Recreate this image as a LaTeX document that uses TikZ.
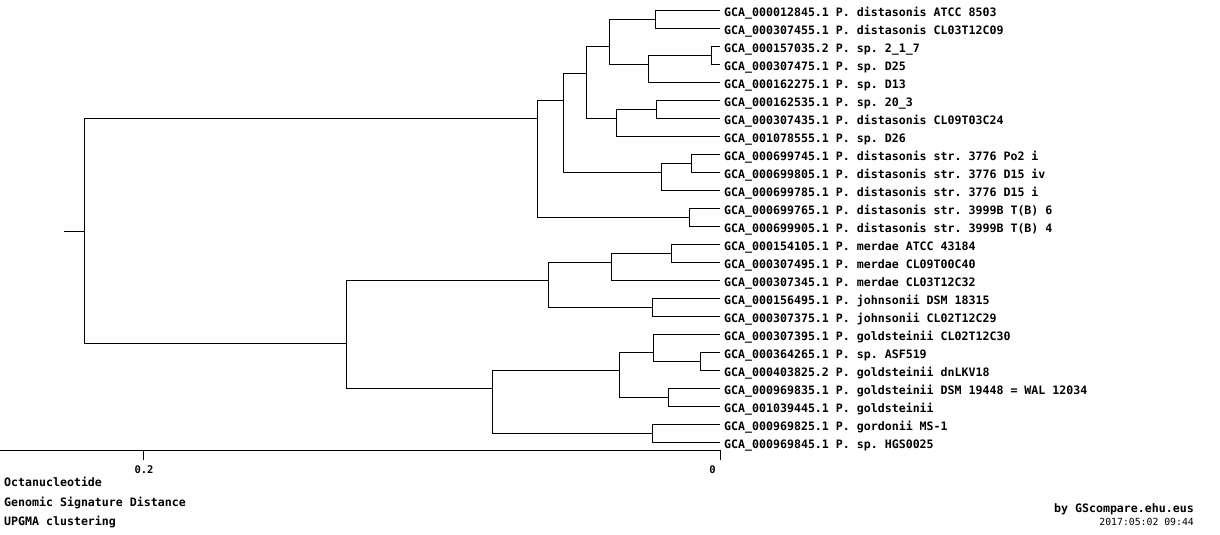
\documentclass[tikz,border=0pt]{standalone}
\usepackage{fontspec}
\setmonofont{DejaVu Sans Mono}
\usepackage{tikz}

\tikzset{
	leaf/.style={anchor=west, inner xsep=4pt, inner ysep=0pt, text height=13pt, text depth=0pt,
		font=\ttfamily\bfseries\fontsize{11.6}{12}\selectfont},
	note/.style={inner sep=0pt, font=\ttfamily\bfseries\fontsize{11.6}{12}\selectfont},
	ticklabel/.style={inner sep=0pt, font=\ttfamily\bfseries\fontsize{10.5}{11}\selectfont},
	branch/.style={line width=1pt},
}

\begin{document}
\begin{tikzpicture}[x=1pt,y=-1pt]
	\useasboundingbox (0,0) rectangle (1220,535);
	% leaves
	\node[leaf] (l1) at (720,10.3) {GCA\_000012845.1 P. distasonis ATCC 8503};
	\node[leaf] (l2) at (720,28.3) {GCA\_000307455.1 P. distasonis CL03T12C09};
	\node[leaf] (l3) at (720,46.3) {GCA\_000157035.2 P. sp. 2\_1\_7};
	\node[leaf] (l4) at (720,64.3) {GCA\_000307475.1 P. sp. D25};
	\node[leaf] (l5) at (720,82.3) {GCA\_000162275.1 P. sp. D13};
	\node[leaf] (l6) at (720,100.3) {GCA\_000162535.1 P. sp. 20\_3};
	\node[leaf] (l7) at (720,118.3) {GCA\_000307435.1 P. distasonis CL09T03C24};
	\node[leaf] (l8) at (720,136.3) {GCA\_001078555.1 P. sp. D26};
	\node[leaf] (l9) at (720,154.3) {GCA\_000699745.1 P. distasonis str. 3776 Po2 i};
	\node[leaf] (l10) at (720,172.3) {GCA\_000699805.1 P. distasonis str. 3776 D15 iv};
	\node[leaf] (l11) at (720,190.3) {GCA\_000699785.1 P. distasonis str. 3776 D15 i};
	\node[leaf] (l12) at (720,208.3) {GCA\_000699765.1 P. distasonis str. 3999B T(B) 6};
	\node[leaf] (l13) at (720,226.3) {GCA\_000699905.1 P. distasonis str. 3999B T(B) 4};
	\node[leaf] (l14) at (720,244.3) {GCA\_000154105.1 P. merdae ATCC 43184};
	\node[leaf] (l15) at (720,262.3) {GCA\_000307495.1 P. merdae CL09T00C40};
	\node[leaf] (l16) at (720,280.3) {GCA\_000307345.1 P. merdae CL03T12C32};
	\node[leaf] (l17) at (720,298.3) {GCA\_000156495.1 P. johnsonii DSM 18315};
	\node[leaf] (l18) at (720,316.3) {GCA\_000307375.1 P. johnsonii CL02T12C29};
	\node[leaf] (l19) at (720,334.3) {GCA\_000307395.1 P. goldsteinii CL02T12C30};
	\node[leaf] (l20) at (720,352.3) {GCA\_000364265.1 P. sp. ASF519};
	\node[leaf] (l21) at (720,370.3) {GCA\_000403825.2 P. goldsteinii dnLKV18};
	\node[leaf] (l22) at (720,388.3) {GCA\_000969835.1 P. goldsteinii DSM 19448 = WAL 12034};
	\node[leaf] (l23) at (720,406.3) {GCA\_001039445.1 P. goldsteinii};
	\node[leaf] (l24) at (720,424.3) {GCA\_000969825.1 P. gordonii MS-1};
	\node[leaf] (l25) at (720,442.3) {GCA\_000969845.1 P. sp. HGS0025};

	% joins
	\coordinate (n1to2) at (655.7,19.3);
	\coordinate (n3to4) at (711.3,55.3);
	\coordinate (n3to5) at (648.3,64.2);
	\coordinate (n1to5) at (609.7,46.3);
	\coordinate (n6to7) at (656.7,109.3);
	\coordinate (n6to8) at (616.3,118.3);
	\coordinate (n1to8) at (586.7,73.3);
	\coordinate (n9to10) at (691.7,163.3);
	\coordinate (n9to11) at (661.7,172.3);
	\coordinate (n1to11) at (563.3,100.3);
	\coordinate (n12to13) at (689.7,217.3);
	\coordinate (n1to13) at (537.3,118.3);
	\coordinate (n14to15) at (671.7,253.3);
	\coordinate (n14to16) at (611.3,262.3);
	\coordinate (n17to18) at (652.3,307.3);
	\coordinate (n14to18) at (548.3,280.3);
	\coordinate (n20to21) at (700.3,361.3);
	\coordinate (n19to21) at (653.3,352.3);
	\coordinate (n22to23) at (668.3,397.3);
	\coordinate (n19to23) at (619.3,370.3);
	\coordinate (n24to25) at (652.3,433.3);
	\coordinate (n19to25) at (492.3,388.3);
	\coordinate (n14to25) at (346.3,343.3);
	\coordinate (root) at (84.3,231.3);
	\coordinate (stub) at (64,231.3);

	\draw[branch] (l1.west) -| (n1to2) |- (l2.west);
	\draw[branch] (l3.west) -| (n3to4) |- (l4.west);
	\draw[branch] (n3to4) -| (n3to5) |- (l5.west);
	\draw[branch] (n1to2) -| (n1to5) |- (n3to5);
	\draw[branch] (l6.west) -| (n6to7) |- (l7.west);
	\draw[branch] (n6to7) -| (n6to8) |- (l8.west);
	\draw[branch] (n1to5) -| (n1to8) |- (n6to8);
	\draw[branch] (l9.west) -| (n9to10) |- (l10.west);
	\draw[branch] (n9to10) -| (n9to11) |- (l11.west);
	\draw[branch] (n1to8) -| (n1to11) |- (n9to11);
	\draw[branch] (l12.west) -| (n12to13) |- (l13.west);
	\draw[branch] (n1to11) -| (n1to13) |- (n12to13);
	\draw[branch] (l14.west) -| (n14to15) |- (l15.west);
	\draw[branch] (n14to15) -| (n14to16) |- (l16.west);
	\draw[branch] (l17.west) -| (n17to18) |- (l18.west);
	\draw[branch] (n14to16) -| (n14to18) |- (n17to18);
	\draw[branch] (l20.west) -| (n20to21) |- (l21.west);
	\draw[branch] (l19.west) -| (n19to21) |- (n20to21);
	\draw[branch] (l22.west) -| (n22to23) |- (l23.west);
	\draw[branch] (n19to21) -| (n19to23) |- (n22to23);
	\draw[branch] (l24.west) -| (n24to25) |- (l25.west);
	\draw[branch] (n19to23) -| (n19to25) |- (n24to25);
	\draw[branch] (n14to18) -| (n14to25) |- (n19to25);
	\draw[branch] (n1to13) -| (root) |- (n14to25);
	\draw[branch] (stub) -- (root);

	% scale
	\coordinate (ax) at (0,450.3);
	\coordinate (tk0) at (720,450.3);
	\coordinate (tk2) at (143.3,450.3);
	\draw[branch] (ax) -- (tk0) -- ++(0,10);
	\draw[branch] (tk2) -- ++(0,10);
	\node[ticklabel] (lab2) at (144,469.5) {0.2};
	\node[ticklabel] (lab0) at (712.5,469.5) {0};

	\node[note, anchor=base west] (meth1) at (4,486.7) {Octanucleotide};
	\node[note, anchor=base west] (meth2) at (4,506.7) {Genomic Signature Distance};
	\node[note, anchor=base west] (meth3) at (4,525.7) {UPGMA clustering};
	\node[note, anchor=base east] (credit) at (1194,512.3) {by GScompare.ehu.eus};
	\node[inner sep=0pt, anchor=base east, font=\ttfamily\fontsize{9.8}{10}\selectfont] (stamp) at (1194,525) {2017:05:02 09:44};
\end{tikzpicture}
\end{document}
